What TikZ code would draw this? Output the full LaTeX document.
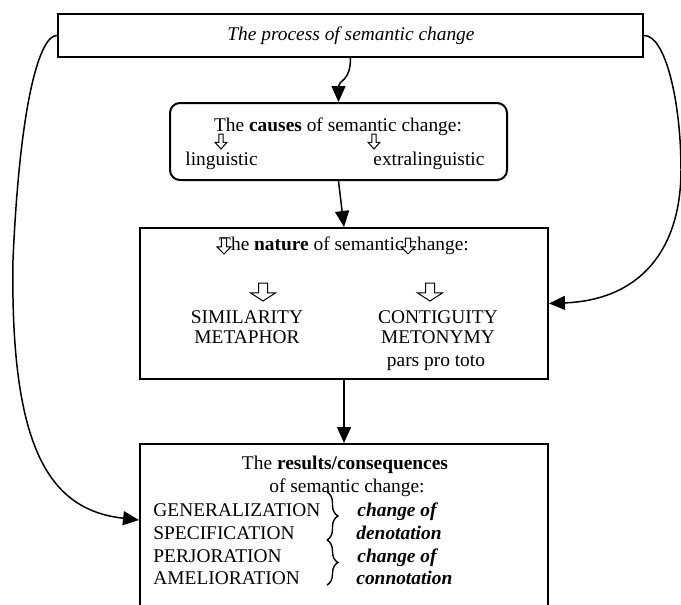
\documentclass[tikz,border=0pt]{standalone}
\usepackage{fontspec}
\setmainfont{Liberation Serif}
\usetikzlibrary{arrows.meta,decorations.pathreplacing}
\begin{document}
\begin{tikzpicture}[x=0.5pt,y=-0.5pt]
        \tikzstyle{every node}=[font=\fontsize{9.7}{11}\selectfont, inner sep=0pt]
        \tikzstyle{box}=[draw, line width=1pt]
        \tikzstyle{txt}=[anchor=base]
        \tikzstyle{lefttxt}=[anchor=base west]
        \tikzstyle{link}=[line width=0.75pt, -{Triangle[length=8pt,width=7pt]}]
        \tikzstyle{brace}=[line width=0.7pt, decorate, decoration={brace, amplitude=5.5pt}]
        \tikzset{pics/hollow/.style 2 args={code={\draw[line width=0.5pt, fill=white, xscale=#1, yscale=#2] (-0.18,0) -- (0.18,0) -- (0.18,0.55) -- (0.5,0.55) -- (0,1) -- (-0.5,0.55) -- (-0.18,0.55) -- cycle;}}}
        \useasboundingbox (0,0) rectangle (681,605);
        \clip (0,0) rectangle (681,605);
        \node[box, minimum width=292.5pt, minimum height=21.5pt] (process) at (350.5,35.5) {};
        \node[box, rounded corners=5pt, minimum width=168.5pt, minimum height=38.5pt] (causes) at (338.5,141.5) {};
        \node[box, minimum width=204pt, minimum height=75.5pt] (nature) at (344,303.5) {};
        \node[box, minimum width=204pt, minimum height=100pt] (results) at (344,544) {};
        \node[txt] (processtxt) at (351,40) {\itshape The process of semantic change};
        \node[txt] (causestxt) at (338,131) {The \textbf{causes} of semantic change:};
        \node[lefttxt] (ling) at (185,165) {linguistic};
        \node[lefttxt] (extraling) at (373,165) {extralinguistic};
        \pic at (221,134) {hollow={12}{15}};
        \pic at (374,134) {hollow={12}{15}};
        \node[txt] (naturetxt) at (344,250) {The \textbf{nature} of semantic change:};
        \pic at (224,238) {hollow={14}{16}};
        \pic at (408,238) {hollow={14}{16}};
        \pic at (263,283) {hollow={25}{18}};
        \pic at (430,283) {hollow={25}{18}};
        \node[txt] (similarity) at (247,323.5) {SIMILARITY};
        \node[txt] (metaphor) at (247,343.5) {METAPHOR};
        \node[txt] (contiguity) at (438,323.5) {CONTIGUITY};
        \node[txt] (metonymy) at (438,343.5) {METONYMY};
        \node[txt] (parspro) at (436,366) {pars pro toto};
        \node[txt] (resultstxt) at (345,469) {The \textbf{results/consequences}};
        \node[txt] (resultstxtb) at (347,492) {of semantic change:};
        \node[lefttxt] (general) at (153,516.5) {GENERALIZATION};
        \node[lefttxt] (specif) at (153,539) {SPECIFICATION};
        \node[lefttxt] (perjor) at (153,562) {PERJORATION};
        \node[lefttxt] (amelior) at (153,584.5) {AMELIORATION};
        \node[lefttxt] (denota) at (357,516.5) {\bfseries\itshape change of};
        \node[lefttxt] (denotb) at (356,539) {\bfseries\itshape denotation};
        \node[lefttxt] (connota) at (357,562) {\bfseries\itshape change of};
        \node[lefttxt] (connotb) at (356,584.5) {\bfseries\itshape connotation};
        \draw[brace] (327,492) -- (327,540);
        \draw[brace] (327,540) -- (327,585);
        \draw[link] (process.south) .. controls +(0,24) and +(0,-22) .. (causes.north);
        \draw[link] (causes.south) -- (nature.north);
        \draw[link] (nature.south) -- (results.north);
        \draw[link] (process.west) .. controls (40,35) and (20,100) .. (13,260) .. controls (10,450) and (50,510) .. ([yshift=12pt]results.west);
        \draw[link] (process.east) .. controls (665,35) and (681,100) .. (681,170) .. controls (681,250) and (640,300) .. (nature.east);
    \end{tikzpicture}
\end{document}
